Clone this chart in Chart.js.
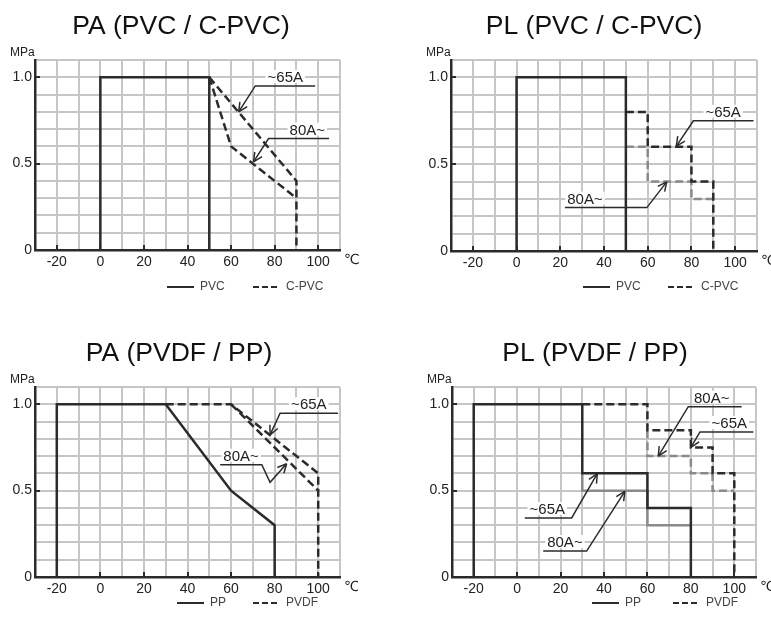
<!DOCTYPE html>
<html>
<head>
<meta charset="utf-8">
<script src="https://cdn.jsdelivr.net/npm/chart.js@4.4.1/dist/chart.umd.min.js"></script>
<style>
  body { margin: 0; background: #fff; }
  #wrap { position: relative; width: 771px; height: 619px; overflow: hidden; background: #fff; }
  #wrap canvas { position: absolute; }
</style>
</head>
<body>
<div id="wrap">
  <canvas id="paPvc" width="362" height="300" style="left:0;top:0"></canvas>
  <canvas id="plPvc" width="354" height="300" style="left:417px;top:0"></canvas>
  <canvas id="paPvdf" width="358" height="292" style="left:0;top:327px"></canvas>
  <canvas id="plPvdf" width="352" height="292" style="left:419px;top:327px"></canvas>
</div>
<script>
// tick labels
const tempTicks = [-20, 0, 20, 40, 60, 80, 100];   // ℃
const pressTicks = [0, 0.5, 1.0];                  // MPa

// PA (PVC / C-PVC)
const paPvcTemp = [0, 0, 50, 50];
const paPvcPress = [0, 1.0, 1.0, 0];
const paCpvc65Temp = [50, 90, 90];
const paCpvc65Press = [1.0, 0.4, 0];
const paCpvc80Temp = [50, 60, 70, 90];
const paCpvc80Press = [1.0, 0.6, 0.5, 0.3];

// PL (PVC / C-PVC)
const plPvcTemp = [0, 0, 50, 50];
const plPvcPress = [0, 1.0, 1.0, 0];
const plCpvc65Temp = [50, 60, 60, 80, 80, 90, 90];
const plCpvc65Press = [0.8, 0.8, 0.6, 0.6, 0.4, 0.4, 0];
const plCpvc80Temp = [50, 60, 60, 80, 80, 90];
const plCpvc80Press = [0.6, 0.6, 0.4, 0.4, 0.3, 0.3];

// PA (PVDF / PP)
const paPpTemp = [-20, -20, 30, 60, 80, 80];
const paPpPress = [0, 1.0, 1.0, 0.5, 0.3, 0];
const paPvdf65Temp = [30, 60, 100, 100];
const paPvdf65Press = [1.0, 1.0, 0.6, 0];
const paPvdf80Temp = [60, 100];
const paPvdf80Press = [1.0, 0.5];

// PL (PVDF / PP)
const plPp65Temp = [-20, -20, 30, 30, 60, 60, 80, 80];
const plPp65Press = [0, 1.0, 1.0, 0.6, 0.6, 0.4, 0.4, 0];
const plPp80Temp = [30, 30, 60, 60, 80];
const plPp80Press = [0.6, 0.5, 0.5, 0.3, 0.3];
const plPvdf65Temp = [30, 60, 60, 80, 80, 90, 90, 100, 100];
const plPvdf65Press = [1.0, 1.0, 0.85, 0.85, 0.75, 0.75, 0.6, 0.6, 0];
const plPvdf80Temp = [60, 60, 80, 80, 90, 90, 100];
const plPvdf80Press = [0.85, 0.7, 0.7, 0.6, 0.6, 0.5, 0.5];

// colours
const DARK = '#2b2b2b';
const LIGHT = '#8a8a8a';
const GRID = '#c6c6c6';
const DASH = [8, 4];
const FONT = '"Liberation Sans", Arial, Helvetica, sans-serif';

Chart.defaults.font.family = FONT;
Chart.defaults.color = '#222';

function series(label, temps, press, color, dash) {
  return {
    label: label,
    data: temps.map((t, i) => ({ x: t, y: press[i] })),
    showLine: true,
    pointRadius: 0,
    borderWidth: 2.5,
    borderColor: color,
    borderDash: dash || [],
    tension: 0,
    fill: false
  };
}

// title, arrow + label callouts, legend, unit captions
const decorPlugin = {
  id: 'decor',
  beforeDatasetsDraw(chart, args, opts) {
    const ctx = chart.ctx, sx = chart.scales.x, sy = chart.scales.y;
    ctx.save();
    ctx.font = '15px ' + FONT;
    (opts.notes || []).forEach(n => {
      const w = ctx.measureText(n.text).width;
      const px = sx.getPixelForValue(n.cx);
      const py = sy.getPixelForValue(n.path[0][1]);
      ctx.fillStyle = '#fff';
      ctx.fillRect(px - w / 2 - 2, py - 16, w + 4, 13);
    });
    ctx.restore();
  },
  afterDatasetsDraw(chart, args, opts) {
    const ctx = chart.ctx, sx = chart.scales.x, sy = chart.scales.y;
    const area = chart.chartArea;
    ctx.save();

    // short inner ticks at labelled values
    ctx.strokeStyle = DARK;
    ctx.lineWidth = 2;
    tempTicks.forEach(t => {
      const px = Math.round(sx.getPixelForValue(t));
      ctx.beginPath();
      ctx.moveTo(px, area.bottom);
      ctx.lineTo(px, area.bottom - 5);
      ctx.stroke();
    });
    pressTicks.forEach(p => {
      const py = Math.round(sy.getPixelForValue(p));
      ctx.beginPath();
      ctx.moveTo(area.left, py);
      ctx.lineTo(area.left + 5, py);
      ctx.stroke();
    });

    // callouts
    ctx.lineWidth = 1.5;
    ctx.font = '15px ' + FONT;
    ctx.fillStyle = '#222';
    ctx.textAlign = 'center';
    ctx.textBaseline = 'alphabetic';
    (opts.notes || []).forEach(n => {
      const pts = n.path.map(p => [sx.getPixelForValue(p[0]), sy.getPixelForValue(p[1])]);
      ctx.beginPath();
      ctx.moveTo(pts[0][0], pts[0][1]);
      for (let i = 1; i < pts.length; i++) ctx.lineTo(pts[i][0], pts[i][1]);
      ctx.stroke();
      const tip = pts[pts.length - 1], prev = pts[pts.length - 2];
      const ang = Math.atan2(tip[1] - prev[1], tip[0] - prev[0]);
      ctx.beginPath();
      [-0.45, 0.45].forEach(d => {
        ctx.moveTo(tip[0], tip[1]);
        ctx.lineTo(tip[0] - 10 * Math.cos(ang + d), tip[1] - 10 * Math.sin(ang + d));
      });
      ctx.stroke();
      ctx.fillText(n.text, sx.getPixelForValue(n.cx), pts[0][1] - 4);
    });
    ctx.restore();
  },
  afterDraw(chart, args, opts) {
    const ctx = chart.ctx, area = chart.chartArea;
    ctx.save();

    // panel title, centred on the canvas
    ctx.fillStyle = '#111';
    ctx.textAlign = 'center';
    ctx.textBaseline = 'alphabetic';
    ctx.font = '26.5px ' + FONT;
    ctx.fillText(opts.title, chart.width / 2, 33.5);

    ctx.fillStyle = '#222';
    ctx.textBaseline = 'middle';
    ctx.textAlign = 'left';
    ctx.font = '12px ' + FONT;
    ctx.fillText('MPa', area.left - 25, area.top - 7);
    ctx.font = '14px "DejaVu Sans", ' + FONT;
    ctx.fillText('℃', area.right + 4, area.bottom + 10);

    // legend
    const lg = opts.legend;
    ctx.font = '12px ' + FONT;
    ctx.fillStyle = '#444';
    ctx.strokeStyle = DARK;
    ctx.lineWidth = 2;
    lg.items.forEach(it => {
      const x0 = area.left + it.dx, y0 = area.bottom + lg.dy;
      ctx.setLineDash(it.dash);
      ctx.beginPath();
      ctx.moveTo(x0, y0);
      ctx.lineTo(x0 + 27, y0);
      ctx.stroke();
      ctx.setLineDash([]);
      ctx.fillText(it.text, x0 + 33, y0);
    });
    ctx.restore();
  }
};

// box.axis = y axis width, right/bottom = layout padding
function makeChart(id, datasets, box, decor) {
  return new Chart(document.getElementById(id), {
    type: 'scatter',
    data: { datasets: datasets },
    options: {
      responsive: false,
      animation: false,
      events: [],
      layout: { padding: { left: 0, top: 60, right: box.right, bottom: box.bottom } },
      plugins: {
        legend: { display: false },
        tooltip: { enabled: false },
        title: { display: false },
        decor: decor
      },
      scales: {
        x: {
          type: 'linear',
          min: -30,
          max: 110,
          afterFit: s => { s.height = 20; },
          ticks: {
            stepSize: 10,
            autoSkip: false,
            maxRotation: 0,
            padding: 4,
            color: '#222',
            font: { size: 14 },
            callback: v => tempTicks.includes(v) ? String(v) : ''
          },
          grid: { color: GRID, lineWidth: 2, drawTicks: false },
          border: { color: DARK, width: 2.5 }
        },
        y: {
          type: 'linear',
          min: 0,
          max: 1.1,
          afterFit: s => { s.width = box.axis; },
          ticks: {
            stepSize: 0.1,
            autoSkip: false,
            padding: 3,
            color: '#222',
            font: { size: 14 },
            callback: v => {
              const hit = pressTicks.find(p => Math.abs(p - v) < 1e-6);
              if (hit === undefined) return '';
              return hit === 0 ? '0' : hit.toFixed(1);
            }
          },
          grid: { color: GRID, lineWidth: 2, drawTicks: false },
          border: { color: DARK, width: 2.5 }
        }
      }
    },
    plugins: [decorPlugin]
  });
}

const pvcLegend = (dy, a, b) => ({ dy: dy, items: [
  { text: 'PVC', dash: [], dx: a },
  { text: 'C-PVC', dash: [6, 3], dx: b }
] });
const ppLegend = (dy, a, b) => ({ dy: dy, items: [
  { text: 'PP', dash: [], dx: a },
  { text: 'PVDF', dash: [6, 3], dx: b }
] });

makeChart('paPvc', [
  series('PVC', paPvcTemp, paPvcPress, DARK),
  series('C-PVC ~65A', paCpvc65Temp, paCpvc65Press, DARK, DASH),
  series('C-PVC 80A~', paCpvc80Temp, paCpvc80Press, DARK, DASH)
], { axis: 35, right: 22, bottom: 30 }, {
  title: 'PA (PVC / C-PVC)',
  legend: pvcLegend(37, 132, 218),
  notes: [
    { text: '~65A', cx: 84.9, path: [[98.6, 0.95], [71.1, 0.95], [63.5, 0.80]] },
    { text: '80A~', cx: 95.0, path: [[105.0, 0.645], [77.2, 0.645], [70.3, 0.51]] }
  ]
});

makeChart('plPvc', [
  series('PVC', plPvcTemp, plPvcPress, DARK),
  series('C-PVC ~65A', plCpvc65Temp, plCpvc65Press, DARK, DASH),
  series('C-PVC 80A~', plCpvc80Temp, plCpvc80Press, LIGHT, DASH)
], { axis: 34, right: 14, bottom: 29 }, {
  title: 'PL (PVC / C-PVC)',
  legend: pvcLegend(36, 132, 217),
  notes: [
    { text: '~65A', cx: 94.5, path: [[108.4, 0.75], [80.9, 0.75], [73.1, 0.604]] },
    { text: '80A~', cx: 31.3, path: [[22.1, 0.25], [59.6, 0.25], [68.7, 0.398]] }
  ]
});

makeChart('paPvdf', [
  series('PP', paPpTemp, paPpPress, DARK),
  series('PVDF ~65A', paPvdf65Temp, paPvdf65Press, DARK, DASH),
  series('PVDF 80A~', paPvdf80Temp, paPvdf80Press, DARK, DASH)
], { axis: 35, right: 18, bottom: 22 }, {
  title: 'PA (PVDF / PP)',
  legend: ppLegend(26, 142, 218),
  notes: [
    { text: '~65A', cx: 95.7, path: [[109.1, 0.948], [82.5, 0.948], [77.9, 0.823]] },
    { text: '80A~', cx: 64.6, path: [[55.0, 0.65], [74.1, 0.65], [77.9, 0.548], [85.5, 0.656]] }
  ]
});

makeChart('plPvdf', [
  series('PP ~65A', plPp65Temp, plPp65Press, DARK),
  series('PVDF ~65A', plPvdf65Temp, plPvdf65Press, DARK, DASH),
  series('PP 80A~', plPp80Temp, plPp80Press, LIGHT),
  series('PVDF 80A~', plPvdf80Temp, plPvdf80Press, LIGHT, DASH)
], { axis: 33, right: 15, bottom: 22 }, {
  title: 'PL (PVDF / PP)',
  legend: ppLegend(26, 140, 221),
  notes: [
    { text: '80A~', cx: 89.6, path: [[103.4, 0.986], [78.8, 0.986], [65.0, 0.70]] },
    { text: '~65A', cx: 97.7, path: [[108.8, 0.84], [84.2, 0.84], [80.0, 0.75]] },
    { text: '~65A', cx: 13.9, path: [[3.5, 0.342], [25.1, 0.342], [36.9, 0.598]] },
    { text: '80A~', cx: 22.0, path: [[12.0, 0.15], [32.0, 0.15], [49.6, 0.496]] }
  ]
});
</script>
</body>
</html>
